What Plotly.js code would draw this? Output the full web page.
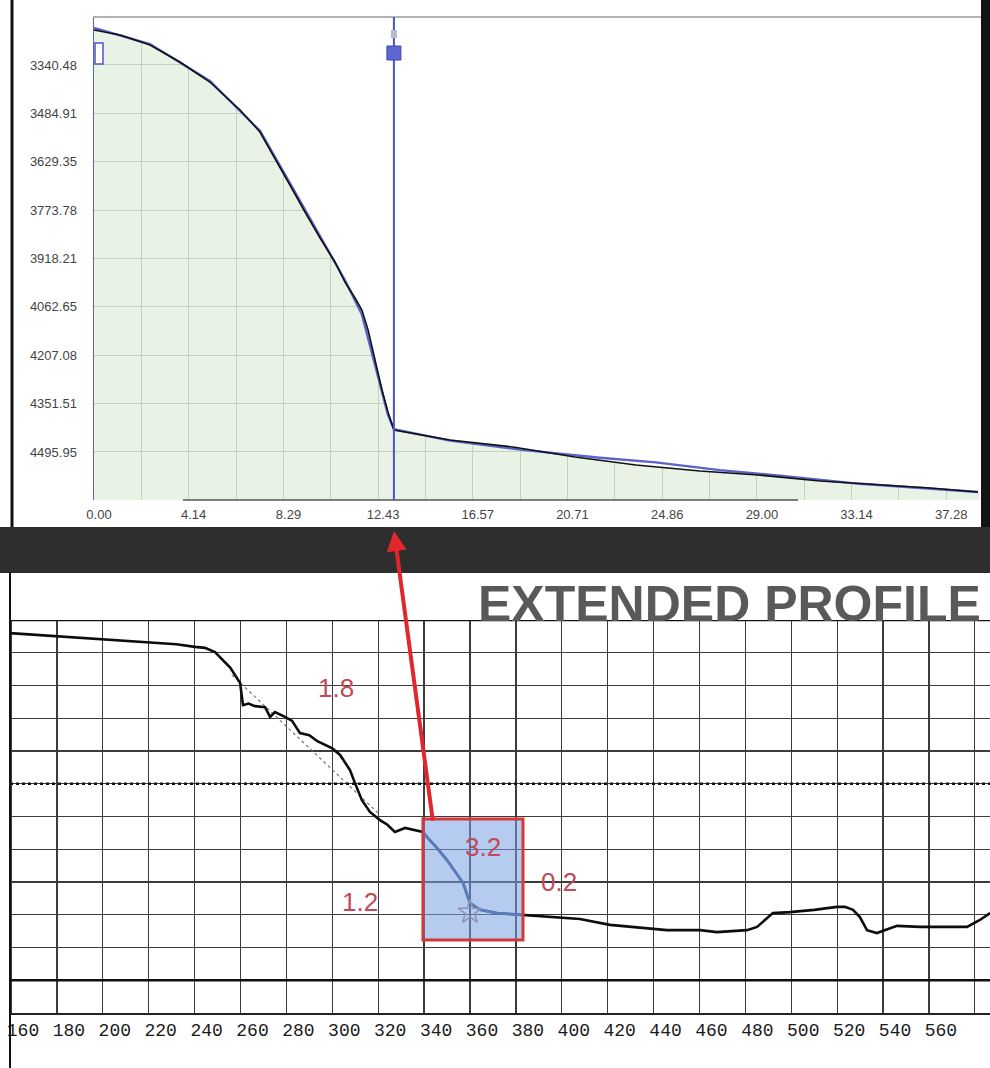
<!DOCTYPE html>
<html>
<head>
<meta charset="utf-8">
<script src="https://cdn.plot.ly/plotly-3.0.1.min.js"></script>
<style>
  html, body { margin: 0; padding: 0; background: #ffffff; }
  #chart { width: 990px; height: 1068px; }
</style>
</head>
<body>
<div id="chart"></div>
<script>
// ---- Upper panel: distance along track vs. depth ----
const upperTickLabels = ['0.00', '4.14', '8.29', '12.43', '16.57', '20.71', '24.86', '29.00', '33.14', '37.28'];
const depthTickLabels = ['3340.48', '3484.91', '3629.35', '3773.78', '3918.21', '4062.65', '4207.08', '4351.51', '4495.95'];

// measured track (black)
const profileDist  = [0.00, 1.14, 2.45, 3.76, 5.07, 6.39, 7.26, 7.92, 8.57, 9.23, 9.89, 10.54, 10.98, 11.42, 11.72, 11.99, 12.29, 12.60, 12.86, 13.12,
                      15.57, 18.33, 21.04, 23.71, 26.51, 29.05, 31.76, 34.38, 36.57, 38.67];
const profileDepth = [3236.0, 3251.0, 3280.8, 3331.6, 3391.3, 3474.9, 3540.6, 3618.2, 3698.8, 3779.4, 3857.0, 3928.7, 3988.4, 4036.2, 4072.0, 4131.7, 4221.3, 4310.9, 4376.6, 4430.3,
                      4460.2, 4481.1, 4511.0, 4534.9, 4552.8, 4564.7, 4582.6, 4594.6, 4603.6, 4615.5];

// fitted model (blue)
const modelDist  = [0.00, 2.45, 5.07, 7.26, 8.57, 9.89, 10.98, 11.72, 12.29, 12.86, 13.12, 15.57, 18.64, 22.13, 24.58, 27.38, 30.01, 33.51, 38.67];
const modelDepth = [3230.0, 3278.0, 3388.0, 3537.0, 3693.0, 3852.0, 3983.0, 4085.0, 4235.0, 4385.0, 4428.0, 4462.0, 4489.0, 4513.0, 4527.0, 4550.0, 4567.0, 4591.0, 4615.5];

const cursorDist = 13.12;

// ---- Lower panel: extended profile ----
const extTickLabels = ['160', '180', '200', '220', '240', '260', '280', '300', '320', '340', '360', '380', '400',
                       '420', '440', '460', '480', '500', '520', '540', '560', '580'];
const extDist  = [159.6, 172.6, 185.0, 198.8, 210.0, 220.6, 232.0, 240.2, 244.5, 248.9, 253.2, 255.5, 257.6, 259.8, 261.1, 263.5, 266.3, 270.7, 272.9, 275.0,
                  279.4, 282.5, 285.9, 290.0, 293.5, 296.8, 300.0, 303.4, 307.7, 309.9, 312.9, 316.4, 320.8, 324.0, 327.3, 331.7, 335.2, 339.5,
                  341.3, 345.5, 350.0, 357.0, 360.0, 364.4, 371.8, 383.1,
                  393.6, 407.9, 421.0, 437.1, 445.8, 460.2, 467.6, 480.7, 485.1, 492.0, 499.4, 510.0, 519.9, 523.4, 526.9, 529.9, 533.0, 537.3,
                  546.1, 556.1, 566.0, 576.6, 582.2, 586.6];
const extLevel = [11.60, 11.54, 11.49, 11.42, 11.38, 11.33, 11.26, 11.18, 11.15, 11.02, 10.72, 10.55, 10.32, 10.08, 9.40, 9.45, 9.37, 9.34, 9.04, 9.19,
                  9.04, 8.92, 8.55, 8.48, 8.30, 8.18, 8.08, 7.88, 7.42, 7.02, 6.50, 6.14, 5.89, 5.75, 5.53, 5.65, 5.59, 5.53,
                  5.37, 5.05, 4.67, 3.97, 3.36, 3.15, 3.05, 2.99,
                  2.93, 2.87, 2.69, 2.60, 2.53, 2.53, 2.47, 2.53, 2.63, 3.05, 3.08, 3.15, 3.24, 3.24, 3.15, 2.93, 2.53, 2.44,
                  2.66, 2.63, 2.62, 2.63, 2.84, 3.05];

const trendDist  = [256.3, 320.8];
const trendLevel = [10.32, 6.05];

const windowDist  = [339.5, 383.1];
const windowLevel = [2.23, 5.92];

const starDist  = [360.0];
const starLevel = [3.08];

const gradientLabels = ['1.8', '3.2', '0.2', '1.2'];
const gradientDist   = [301.6, 365.7, 398.8, 312.1];
const gradientLevel  = [9.92, 5.07, 4.00, 3.39];

// ---- page geometry helpers (pixel -> paper) ----
const W = 990, H = 1068;
const PX = x => x / W;
const PY = y => 1 - y / H;

const upperRangeX = [0, 38.76];
const upperRangeY = [4639.3, 3197.2];   // depth grows downward
const lowerRangeX = [159.56, 586.6];
const lowerRangeY = [0, 12];

const upperTickVals = upperTickLabels.map(Number);
const upperMinorVals = upperTickVals.map((v, i) => i < upperTickVals.length - 1 ? (v + upperTickVals[i + 1]) / 2 : v + (v - upperTickVals[i - 1]) / 2);

const lastDepth = profileDepth[profileDepth.length - 1];

// window sub-segment of the extended profile
const segDist = [], segLevel = [];
extDist.forEach((d, i) => {
  if (d >= windowDist[0] && d <= windowDist[1]) { segDist.push(d); segLevel.push(extLevel[i]); }
});

const traces = [
  // shaded area under the track
  {
    x: [...profileDist, upperRangeX[1], upperRangeX[1], profileDist[0]],
    y: [...profileDepth, lastDepth, upperRangeY[0], upperRangeY[0]],
    xaxis: 'x', yaxis: 'y', mode: 'lines', fill: 'toself',
    fillcolor: 'rgba(205,228,198,0.45)', line: { width: 0 }, hoverinfo: 'skip'
  },
  // open water above the track
  {
    x: [...profileDist, upperRangeX[1], upperRangeX[1], upperRangeX[0], upperRangeX[0]],
    y: [...profileDepth, lastDepth, upperRangeY[1], upperRangeY[1], profileDepth[0]],
    xaxis: 'x', yaxis: 'y', mode: 'lines', fill: 'toself',
    fillcolor: '#ffffff', line: { width: 0 }, hoverinfo: 'skip'
  },
  {
    x: modelDist, y: modelDepth, xaxis: 'x', yaxis: 'y', mode: 'lines',
    line: { color: '#5a62cc', width: 2.4 }
  },
  {
    x: profileDist, y: profileDepth, xaxis: 'x', yaxis: 'y', mode: 'lines',
    line: { color: '#111111', width: 1.6 }
  },

  // lower panel
  {
    x: trendDist, y: trendLevel, xaxis: 'x2', yaxis: 'y2', mode: 'lines',
    line: { color: '#777777', width: 1.2, dash: 'dot' }
  },
  {
    x: extDist, y: extLevel, xaxis: 'x2', yaxis: 'y2', mode: 'lines',
    line: { color: '#0d0d0d', width: 2.6 }
  },
  {
    x: segDist, y: segLevel, xaxis: 'x2', yaxis: 'y2', mode: 'lines',
    line: { color: '#34508f', width: 2.6 }
  },
  {
    x: starDist, y: starLevel, xaxis: 'x2', yaxis: 'y2', mode: 'markers',
    marker: { symbol: 'star-open', size: 18, color: '#b07a92', line: { width: 1.5 } }
  }
];

const shapes = [
  // dark band between panels
  { type: 'rect', xref: 'paper', yref: 'paper', x0: 0, x1: 1, y0: PY(573), y1: PY(527),
    fillcolor: '#2e2e2e', line: { width: 0 }, layer: 'below' },
  // screen frame of the upper panel
  { type: 'line', xref: 'paper', yref: 'paper', x0: PX(12), x1: PX(12), y0: PY(0), y1: PY(527),
    line: { color: '#111', width: 3 } },
  { type: 'rect', xref: 'paper', yref: 'paper', x0: PX(981), x1: 1, y0: PY(527), y1: 1,
    fillcolor: '#141414', line: { width: 0 } },
  { type: 'line', xref: 'paper', yref: 'paper', x0: PX(93), x1: PX(981), y0: PY(17), y1: PY(17),
    line: { color: '#9a9a9a', width: 1.5 } },
  { type: 'line', xref: 'paper', yref: 'paper', x0: PX(183), x1: PX(798), y0: PY(500), y1: PY(500),
    line: { color: '#555', width: 1.5 } },
  // cursor
  { type: 'line', xref: 'x', yref: 'paper', x0: cursorDist, x1: cursorDist, y0: PY(500), y1: PY(17),
    line: { color: '#4b55c9', width: 2 } },
  { type: 'rect', xref: 'x', xsizemode: 'pixel', xanchor: cursorDist, x0: -3, x1: 3,
    yref: 'paper', y0: PY(38), y1: PY(30), fillcolor: '#b9bccc', line: { width: 0 } },
  { type: 'rect', xref: 'x', xsizemode: 'pixel', xanchor: cursorDist, x0: -7, x1: 7,
    yref: 'paper', y0: PY(60), y1: PY(46), fillcolor: '#5d67d2', line: { color: '#3d47b0', width: 1 } },
  // start marker
  { type: 'rect', xref: 'paper', yref: 'paper', x0: PX(95), x1: PX(103), y0: PY(64), y1: PY(43),
    fillcolor: '#ffffff', line: { color: '#4b55c9', width: 1.5 } },

  // lower panel frame
  { type: 'line', xref: 'paper', yref: 'paper', x0: PX(10), x1: PX(10), y0: 0, y1: PY(572),
    line: { color: '#111', width: 2 } },
  { type: 'line', xref: 'paper', yref: 'y2', x0: PX(10), x1: 1, y0: 12, y1: 12,
    line: { color: '#111', width: 2.5 } },
  { type: 'line', xref: 'paper', yref: 'y2', x0: PX(10), x1: 1, y0: 7, y1: 7,
    line: { color: '#111', width: 2.5, dash: 'dot' } },
  { type: 'line', xref: 'paper', yref: 'y2', x0: PX(10), x1: 1, y0: 1, y1: 1,
    line: { color: '#111', width: 2.5 } },
  // highlighted window
  { type: 'rect', xref: 'x2', yref: 'y2', x0: windowDist[0], x1: windowDist[1], y0: windowLevel[0], y1: windowLevel[1],
    fillcolor: 'rgba(120,160,225,0.55)', line: { color: '#d23a3a', width: 3 }, layer: 'above' }
];

const annotations = [
  { xref: 'paper', yref: 'paper', x: PX(476), y: PY(604), xanchor: 'left', yanchor: 'middle',
    text: '<b>EXTENDED PROFILE</b>', showarrow: false,
    font: { family: 'Liberation Sans, Arial, sans-serif', size: 50, color: '#595959' } },
  { xref: 'paper', yref: 'paper', x: PX(394), y: PY(531), ax: 39, ay: 291, text: '',
    showarrow: true, arrowhead: 2, arrowsize: 1, arrowwidth: 4, arrowcolor: '#e0282c' }
];
gradientLabels.forEach((t, i) => {
  annotations.push({
    xref: 'x2', yref: 'y2', x: gradientDist[i], y: gradientLevel[i], text: t, showarrow: false,
    font: { family: 'Liberation Sans, Arial, sans-serif', size: 26, color: '#c24a58' }
  });
});

const gridGreen = '#b3c9b0';

const layout = {
  width: W, height: H, autosize: false,
  margin: { l: 0, r: 0, t: 0, b: 0 },
  paper_bgcolor: '#ffffff', plot_bgcolor: 'rgba(0,0,0,0)',
  showlegend: false,
  xaxis: {
    domain: [PX(94), PX(980)], anchor: 'y', range: upperRangeX,
    tickmode: 'array', tickvals: upperTickVals, ticktext: upperTickLabels,
    ticks: '', ticklabelshift: 5, ticklabelstandoff: 5,
    tickfont: { family: 'Liberation Sans, Arial, sans-serif', size: 13, color: '#444' },
    showgrid: true, gridcolor: gridGreen, gridwidth: 1,
    minor: { tickmode: 'array', tickvals: upperMinorVals, showgrid: true, gridcolor: gridGreen, gridwidth: 1 },
    zeroline: false, showline: false
  },
  yaxis: {
    domain: [PY(500), PY(17)], anchor: 'x', range: upperRangeY,
    tickmode: 'array', tickvals: depthTickLabels.map(Number), ticktext: depthTickLabels,
    ticks: '', ticklabelstandoff: 13,
    tickfont: { family: 'Liberation Sans, Arial, sans-serif', size: 13, color: '#444' },
    showgrid: true, gridcolor: gridGreen, gridwidth: 1,
    zeroline: false, showline: true, linecolor: '#5a62c8', linewidth: 1.5
  },
  xaxis2: {
    domain: [PX(10), 1], anchor: 'y2', range: lowerRangeX,
    tickmode: 'array', tickvals: extTickLabels.map(Number), ticktext: extTickLabels,
    ticks: '', ticklabelshift: 12, ticklabelstandoff: 0,
    tickfont: { family: 'Liberation Mono, DejaVu Sans Mono, monospace', size: 18, color: '#1a1a1a' },
    showgrid: true, gridcolor: '#3c3c3c', gridwidth: 1.3,
    zeroline: false, showline: true, linecolor: '#222', linewidth: 1.5
  },
  yaxis2: {
    domain: [PY(1013), PY(620)], anchor: 'x2', range: lowerRangeY,
    tickmode: 'linear', tick0: 0, dtick: 1, showticklabels: false, ticks: '',
    showgrid: true, gridcolor: '#3c3c3c', gridwidth: 1.3,
    zeroline: false, showline: false
  },
  shapes: shapes,
  annotations: annotations
};

Plotly.newPlot('chart', traces, layout, { displayModeBar: false, staticPlot: true });
</script>
</body>
</html>
